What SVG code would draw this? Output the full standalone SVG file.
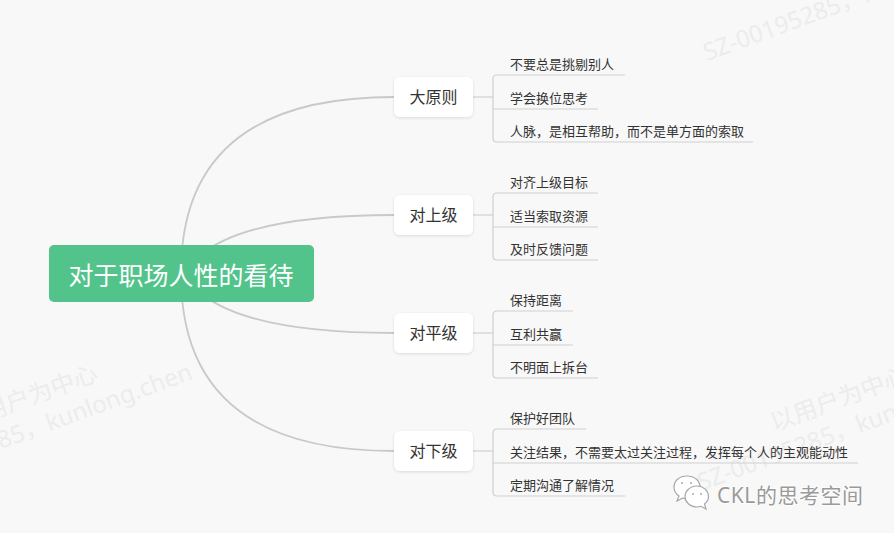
<svg xmlns="http://www.w3.org/2000/svg" width="894" height="533" viewBox="0 0 894 533">
<defs>
<filter id="sh" x="-20%" y="-30%" width="140%" height="160%">
<feDropShadow dx="0" dy="1" stdDeviation="1.5" flood-color="#000" flood-opacity="0.12"/>
</filter>
<style>
.bg{fill:#f8f8f8}
.wm{font-family:"Noto Sans","Noto Sans CJK SC",sans-serif;font-size:24px;fill:#ececec;text-anchor:middle}
.curve{fill:none;stroke:#c9c9c9;stroke-width:1.8}
.ln{fill:none;stroke:#d0d0d0;stroke-width:1.2}
.root{fill:#52c38b}
.rootT{font-family:"Noto Sans CJK SC","Noto Sans",sans-serif;font-size:25px;fill:#fff;text-anchor:middle}
.l1{fill:#fff;filter:url(#sh)}
.l1T{font-family:"Noto Sans CJK SC","Noto Sans",sans-serif;font-size:16px;fill:#333;text-anchor:middle}
.l2T{font-family:"Noto Sans CJK SC","Noto Sans",sans-serif;font-size:13px;fill:#333}
.logoT{font-family:"Noto Sans","Noto Sans CJK SC",sans-serif;font-size:21px;fill:#9a9a9a;stroke:#fff;stroke-width:1.5;paint-order:stroke}
.ic{fill:#fff;stroke:#a8a8a8;stroke-width:1.2}
</style>
</defs>
<rect class="bg" x="0" y="0" width="894" height="533"/>

<g id="watermarks">
<g transform="translate(857,2) rotate(-20)">
<text class="wm" x="0" y="-27">以用户为中心</text>
<text class="wm" x="0" y="4">SZ-00195285，kunlong.chen</text>
</g>
<g transform="translate(41,430) rotate(-20)">
<text class="wm" x="0" y="-27">以用户为中心</text>
<text class="wm" x="0" y="4">SZ-00195285，kunlong.chen</text>
</g>
<g transform="translate(851,432) rotate(-20)">
<text class="wm" x="0" y="-27">以用户为中心</text>
<text class="wm" x="0" y="4">SZ-00195285，kunlong.chen</text>
</g>
</g>

<g id="connectors">
<path class="curve" d="M181 273 Q181 97 394 97"/>
<path class="curve" d="M195 260 Q240 215 394 215"/>
<path class="curve" d="M195 288 Q240 333 394 333"/>
<path class="curve" d="M181 275 Q181 451 394 451"/>

<path class="ln" d="M473 97 H493"/>
<path class="ln" d="M625 75 H497 Q493 75 493 79 V138 Q493 142 497 142 H753"/>
<path class="ln" d="M493 109 H598"/>

<path class="ln" d="M473 215 H493"/>
<path class="ln" d="M598 193 H497 Q493 193 493 197 V256 Q493 260 497 260 H598"/>
<path class="ln" d="M493 227 H598"/>

<path class="ln" d="M473 333 H493"/>
<path class="ln" d="M573 311 H497 Q493 311 493 315 V374 Q493 378 497 378 H598"/>
<path class="ln" d="M493 345 H573"/>

<path class="ln" d="M473 451 H493"/>
<path class="ln" d="M586 429 H497 Q493 429 493 433 V492 Q493 496 497 496 H625"/>
<path class="ln" d="M493 463 H858"/>
</g>

<g id="root">
<rect class="root" x="49" y="245" width="265" height="57" rx="5"/>
<text class="rootT" x="181" y="285">对于职场人性的看待</text>
</g>

<g id="n-dayuanze">
<rect class="l1" x="394" y="77" width="79" height="40" rx="6"/>
<text class="l1T" x="433.5" y="103">大原则</text>
</g>
<g id="n-dayuanze-1"><text class="l2T" x="510" y="69">不要总是挑剔别人</text></g>
<g id="n-dayuanze-2"><text class="l2T" x="510" y="103">学会换位思考</text></g>
<g id="n-dayuanze-3"><text class="l2T" x="510" y="136">人脉，是相互帮助，而不是单方面的索取</text></g>

<g id="n-shangji">
<rect class="l1" x="394" y="195" width="79" height="40" rx="6"/>
<text class="l1T" x="433.5" y="221">对上级</text>
</g>
<g id="n-shangji-1"><text class="l2T" x="510" y="187">对齐上级目标</text></g>
<g id="n-shangji-2"><text class="l2T" x="510" y="221">适当索取资源</text></g>
<g id="n-shangji-3"><text class="l2T" x="510" y="254">及时反馈问题</text></g>

<g id="n-pingji">
<rect class="l1" x="394" y="313" width="79" height="40" rx="6"/>
<text class="l1T" x="433.5" y="339">对平级</text>
</g>
<g id="n-pingji-1"><text class="l2T" x="510" y="305">保持距离</text></g>
<g id="n-pingji-2"><text class="l2T" x="510" y="339">互利共赢</text></g>
<g id="n-pingji-3"><text class="l2T" x="510" y="372">不明面上拆台</text></g>

<g id="n-xiaji">
<rect class="l1" x="394" y="431" width="79" height="40" rx="6"/>
<text class="l1T" x="433.5" y="457">对下级</text>
</g>
<g id="n-xiaji-1"><text class="l2T" x="510" y="423">保护好团队</text></g>
<g id="n-xiaji-2"><text class="l2T" x="510" y="457">关注结果，不需要太过关注过程，发挥每个人的主观能动性</text></g>
<g id="n-xiaji-3"><text class="l2T" x="510" y="490">定期沟通了解情况</text></g>

<g id="logo">
<path class="ic" d="M687 476 C679 476 674 481 674 487 C674 491 676 494 679 496 L677 501 L683 498 C684 498.5 686 499 687 499 C695 499 700 494 700 487 C700 481 695 476 687 476 Z"/>
<circle cx="682" cy="483" r="1" fill="#a8a8a8"/>
<circle cx="691" cy="483" r="1" fill="#a8a8a8"/>
<path class="ic" d="M697 486 C690 486 685 491 685 496.5 C685 502 690 507 697 507 C698.5 507 700 506.7 701 506.3 L706 509 L704.5 504 C707 502 708.5 499.5 708.5 496.5 C708.5 491 703.5 486 697 486 Z"/>
<circle cx="693" cy="494" r="1" fill="#a8a8a8"/>
<circle cx="701" cy="494" r="1" fill="#a8a8a8"/>
<text class="logoT" x="717" y="503" textLength="146" lengthAdjust="spacing">CKL的思考空间</text>
</g>
</svg>
